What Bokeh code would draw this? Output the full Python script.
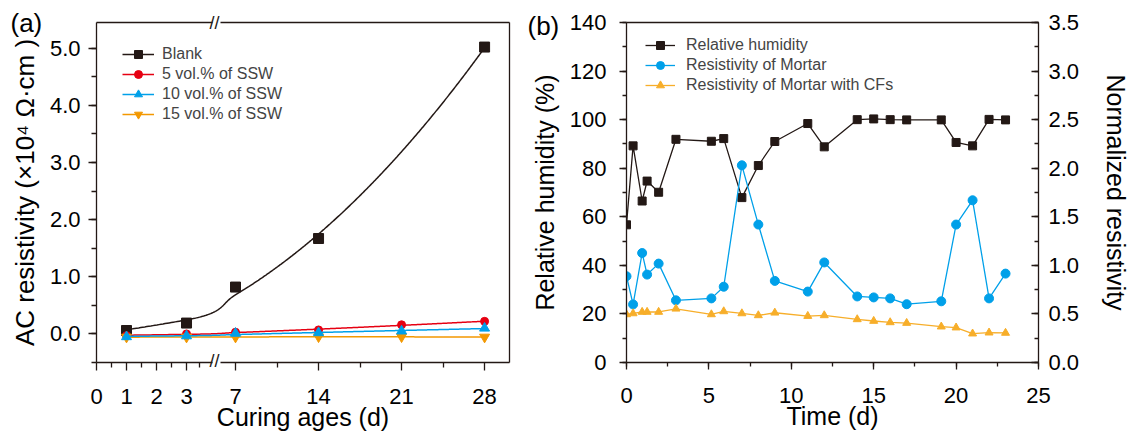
import numpy as np
from bokeh.plotting import figure
from bokeh.models import (LinearAxis, Range1d, FixedTicker, SingleIntervalTicker,
                          NumeralTickFormatter, Legend, LegendItem, Title)
from bokeh.layouts import row
from bokeh.embed import file_html
from bokeh.resources import INLINE

# ---------------- data: panel (a) ----------------
ages = [1, 3, 7, 14, 21, 28]
blank_ages = [1, 3, 7, 14, 28]
blank = [0.06, 0.19, 0.82, 1.67, 5.02]
ssw5 = [-0.03, 0.00, 0.03, 0.07, 0.16, 0.22]
ssw10 = [-0.05, -0.035, 0.01, 0.02, 0.05, 0.10]
ssw15 = [-0.055, -0.055, -0.055, -0.05, -0.05, -0.055]
xtick_days = [0, 1, 2, 3, 7, 14, 21, 28]
xminor_days = [0.5, 1.5, 2.5, 3.5, 10.5, 17.5, 24.5]

# ---------------- data: panel (b) ----------------
time_d = [0, 0.4, 0.95, 1.25, 1.95, 3.0, 5.15, 5.9, 7.0, 8.0, 9.0, 11.0, 12.0,
          14.0, 15.0, 16.0, 17.0, 19.1, 20.0, 21.0, 22.0, 23.0]
rel_humidity = [56.7, 89.2, 66.5, 74.7, 70.1, 91.9, 91.1, 92.2, 67.9, 81.1, 91.0,
                98.4, 88.8, 100.0, 100.3, 100.0, 99.9, 99.9, 90.6, 89.2, 100.1, 99.9]
res_mortar = [0.888, 0.598, 1.127, 0.905, 1.018, 0.64, 0.66, 0.78, 2.03, 1.42, 0.84,
              0.73, 1.03, 0.68, 0.67, 0.66, 0.60, 0.63, 1.42, 1.67, 0.66, 0.915]
res_mortar_cf = [0.495, 0.505, 0.52, 0.52, 0.52, 0.553, 0.495, 0.526, 0.505, 0.485,
                 0.512, 0.478, 0.485, 0.444, 0.427, 0.413, 0.406, 0.369, 0.359,
                 0.297, 0.307, 0.304]

FONT = "Liberation Sans"
AX = "#231815"
C_BLACK = "#231815"
C_RED = "#e60012"
C_BLUE = "#00a0e9"
C_ORANGE = "#f39800"
C_ORANGE_B = "#f7ae2a"

# broken x axis for panel (a): 30 units/day up to the break, 83/7 units/day after it
K1 = 30.0
K2 = 83.0 / 7.0
BREAK_U = 120.0          # axis position of the break marks
SEG2_START = 5.4         # first day shown after the break
XMAX_DAY = 30.1
U7 = BREAK_U + (7 - SEG2_START) * K2
XMAX_U = U7 + (XMAX_DAY - 7) * K2


def brk(d):
    d = np.asarray(d, dtype=float)
    t = np.clip((d - 3.0) / 4.0, 0, 1)
    h00 = 2 * t**3 - 3 * t**2 + 1
    h10 = t**3 - 2 * t**2 + t
    h01 = -2 * t**3 + 3 * t**2
    h11 = t**3 - t**2
    mid = h00 * 3 * K1 + h10 * 4 * K1 + h01 * U7 + h11 * 4 * K2
    return np.where(d <= 3, d * K1, np.where(d < 7, mid, U7 + (d - 7) * K2))


def style_axis(ax, tick_out=8, minor_out=5, tick_in=0, minor_in=0):
    ax.axis_line_color = AX
    ax.axis_line_width = 1.3
    ax.major_tick_line_color = AX
    ax.major_tick_line_width = 1.3
    ax.minor_tick_line_color = AX
    ax.minor_tick_line_width = 1.3
    ax.major_tick_out = tick_out
    ax.major_tick_in = tick_in
    ax.minor_tick_out = minor_out
    ax.minor_tick_in = minor_in
    ax.major_label_text_font = FONT
    ax.major_label_text_font_size = "22px"
    ax.major_label_text_color = "black"
    ax.axis_label_text_font = FONT
    ax.axis_label_text_font_size = "25px"
    ax.axis_label_text_font_style = "normal"
    ax.axis_label_text_color = "black"


def frame_axis(bounds="auto", **kw):
    """A bare axis line (no ticks, no labels, zero size) used as a frame edge."""
    ax = LinearAxis(ticker=FixedTicker(ticks=[]), bounds=bounds, **kw)
    ax.axis_line_color = AX
    ax.axis_line_width = 1.3
    ax.major_tick_line_color = None
    ax.minor_tick_line_color = None
    ax.major_tick_out = 0
    ax.major_tick_in = 0
    ax.minor_tick_out = 0
    ax.minor_tick_in = 0
    ax.major_label_standoff = 0
    ax.major_label_text_font_size = "0px"
    return ax


def panel_tag(text, offset, standoff):
    return Title(text=text, align="left", offset=offset, standoff=standoff,
                 vertical_align="bottom", text_font=FONT, text_font_size="26px",
                 text_font_style="normal", text_color="black")


# ================= panel (a) =================
p1 = figure(width=525, height=434, x_range=Range1d(0, XMAX_U),
            y_range=Range1d(-0.5, 5.45), output_backend="svg", toolbar_location=None,
            min_border_left=96, min_border_right=16, min_border_top=18,
            min_border_bottom=72, outline_line_color=None)
p1.grid.visible = False
xa = p1.xaxis[0]
ya = p1.yaxis[0]
style_axis(xa)
style_axis(ya)
xa.axis_line_color = None
tick_pos = [float(v) for v in brk(xtick_days)]
xa.ticker = FixedTicker(ticks=tick_pos, minor_ticks=[float(v) for v in brk(xminor_days)])
xa.major_label_overrides = {tp: str(d) for tp, d in zip(tick_pos, xtick_days)}
xa.axis_label = "Curing ages (d)"
xa.major_label_standoff = 18
xa.axis_label_standoff = -4
ya.ticker = SingleIntervalTicker(interval=1, num_minor_ticks=2)
ya.formatter = NumeralTickFormatter(format="0.0")
ya.axis_label = "AC resistivity (×10⁴ Ω·cm )"
ya.axis_label_text_font_size = "26px"
ya.major_label_standoff = 8
ya.axis_label_standoff = 7

GAP = 4.0
brk_title_bottom = Title(text="//", align="left", offset=BREAK_U - 7, standoff=-23,
                         vertical_align="top", text_font=FONT, text_font_size="18px",
                         text_font_style="normal", text_color=AX)
p1.below = [frame_axis(bounds=(0, BREAK_U - GAP)),
            frame_axis(bounds=(BREAK_U + GAP, XMAX_U)),
            brk_title_bottom, xa]
p1.add_layout(frame_axis(), "right")
p1.add_layout(frame_axis(bounds=(0, BREAK_U - GAP)), "above")
p1.add_layout(frame_axis(bounds=(BREAK_U + GAP, XMAX_U)), "above")
p1.add_layout(Title(text="//", align="left", offset=BREAK_U - 7, standoff=-20,
                    vertical_align="bottom", text_font=FONT, text_font_size="18px",
                    text_font_style="normal", text_color=AX), "above")
p1.title = panel_tag("(a)", -86, -34)

dgrid = np.linspace(1, 28, 400)
series_a = [
    ("Blank", blank_ages, blank, C_BLACK, "square", 10),
    ("5 vol.% of SSW", ages, ssw5, C_RED, "circle", 8),
    ("15 vol.% of SSW", ages, ssw15, C_ORANGE, "inverted_triangle", 10),
    ("10 vol.% of SSW", ages, ssw10, C_BLUE, "triangle", 10),
]
items_a = {}
for name, xs, ys, col, mk, sz in series_a:
    coef = np.polyfit(xs, ys, 2)
    lr = p1.line(brk(dgrid), np.polyval(coef, dgrid), line_color=col, line_width=1.5)
    sr = p1.scatter(brk(xs), ys, marker=mk, size=sz, fill_color=col, line_color=col)
    items_a[name] = [lr, sr]

leg_a = Legend(items=[LegendItem(label=n, renderers=items_a[n]) for n in
                      ["Blank", "5 vol.% of SSW", "10 vol.% of SSW", "15 vol.% of SSW"]],
               location=(26, 238), padding=0, margin=0, spacing=0,
               glyph_width=32, glyph_height=20, label_height=20, label_standoff=8,
               label_text_font=FONT, label_text_font_size="16px",
               border_line_color=None, background_fill_alpha=0)
p1.add_layout(leg_a)

# ================= panel (b) =================
p2 = figure(width=608, height=434, x_range=Range1d(0, 25), y_range=Range1d(0, 140),
            output_backend="svg", toolbar_location=None,
            min_border_left=101, min_border_right=92, min_border_top=22,
            min_border_bottom=71, outline_line_color=None)
p2.grid.visible = False
p2.extra_y_ranges = {"nr": Range1d(0, 3.5)}
xb = p2.xaxis[0]
yb_ = p2.yaxis[0]
style_axis(xb, tick_out=7, minor_out=4)
style_axis(yb_, tick_out=7, minor_out=4)
xb.ticker = SingleIntervalTicker(interval=5, num_minor_ticks=2)
xb.axis_label = "Time (d)"
xb.major_label_standoff = 18
xb.axis_label_standoff = -4
yb_.ticker = SingleIntervalTicker(interval=20, num_minor_ticks=2)
yb_.axis_label = "Relative humidity (%)"
yb_.major_label_standoff = 13
yb_.axis_label_standoff = 8
rax = LinearAxis(y_range_name="nr", axis_label="Normalized resistivity")
style_axis(rax, tick_out=0, minor_out=0, tick_in=7, minor_in=4)
rax.ticker = SingleIntervalTicker(interval=0.5, num_minor_ticks=2)
rax.formatter = NumeralTickFormatter(format="0.0")
rax.major_label_standoff = 10
rax.axis_label_standoff = 20
p2.add_layout(rax, "right")
p2.add_layout(frame_axis(), "above")
p2.title = panel_tag("(b)", -99, -36)

l_rh = p2.line(time_d, rel_humidity, line_color=C_BLACK, line_width=1.3)
s_rh = p2.scatter(time_d, rel_humidity, marker="square", size=8, fill_color=C_BLACK,
                  line_color=C_BLACK)
l_m = p2.line(time_d, res_mortar, line_color=C_BLUE, line_width=1.3, y_range_name="nr")
s_m = p2.scatter(time_d, res_mortar, marker="circle", size=9, fill_color=C_BLUE,
                 line_color=C_BLUE, y_range_name="nr")
l_c = p2.line(time_d, res_mortar_cf, line_color=C_ORANGE_B, line_width=1.3,
              y_range_name="nr")
s_c = p2.scatter(time_d, res_mortar_cf, marker="triangle", size=8, fill_color=C_ORANGE_B,
                 line_color=C_ORANGE_B, y_range_name="nr")

leg_b = Legend(items=[LegendItem(label="Relative humidity", renderers=[l_rh, s_rh]),
                      LegendItem(label="Resistivity of Mortar", renderers=[l_m, s_m]),
                      LegendItem(label="Resistivity of Mortar with CFs", renderers=[l_c, s_c])],
               location=(19, 267), padding=0, margin=0, spacing=0,
               glyph_width=30, glyph_height=20, label_height=20, label_standoff=11,
               label_text_font=FONT, label_text_font_size="16px",
               border_line_color=None, background_fill_alpha=0)
p2.add_layout(leg_b)

layout = row(p1, p2)
open("out.html", "w").write(file_html(layout, INLINE))
